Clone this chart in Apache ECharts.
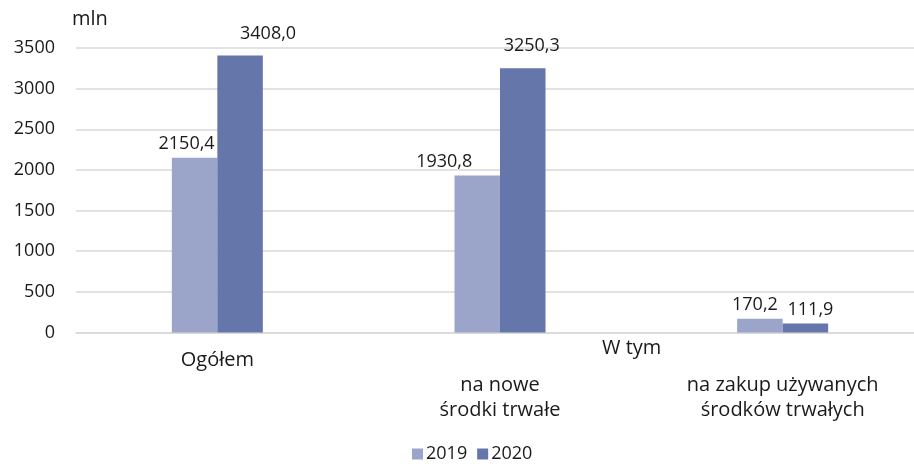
<!DOCTYPE html>
<html>
<head>
<meta charset="utf-8">
<script src="https://cdn.jsdelivr.net/npm/echarts@6/dist/echarts.min.js"></script>
<style>
html,body{margin:0;padding:0;background:#fff;overflow:hidden;width:914px;height:468px;}
#chart{width:924px;height:468px;}
</style>
</head>
<body>
<div id="chart"></div>
<script>
const categories = ['Ogółem', '\nna nowe\nśrodki trwałe', '\nna zakup używanych\nśrodków trwałych'];
const seriesNames = ['2019', '2020'];
const values2019 = [2150.4, 1930.8, 170.2];
const values2020 = [3408.0, 3250.3, 111.9];
const yTicks = [0, 500, 1000, 1500, 2000, 2500, 3000, 3500];
const groupLabel = 'W tym';
const unitLabel = 'mln';

const FONT = '"Open Sans", "Noto Sans", sans-serif';
const TXT = '#1a1a1a';
const labelOffsets2019 = [[-8, 0], [-33, 0], [-5, 0]];
const labelOffsets2020 = [[28, -8], [9, -8], [5, 0]];

function fmt(v) { return v.toFixed(1).replace('.', ','); }
function build(vals, offs) {
  return vals.map((v, i) => ({ value: v, label: { offset: offs[i] } }));
}

const chart = echarts.init(document.getElementById('chart'), null, { renderer: 'canvas' });
chart.setOption({
  animation: false,
  textStyle: { fontFamily: FONT },
  grid: { left: 76, right: 0, top: 48, bottom: 135.5, containLabel: false },
  legend: {
    bottom: 0, left: 407,
    itemWidth: 11, itemHeight: 11, itemGap: 10,
    icon: 'rect',
    textStyle: { fontFamily: FONT, fontSize: 18, color: TXT, padding: [0, 0, 0, -2] },
    data: seriesNames
  },
  xAxis: {
    type: 'category',
    data: categories,
    axisLine: { lineStyle: { color: '#d9d9d9', width: 1.5 } },
    axisTick: { show: false },
    axisLabel: { fontFamily: FONT, fontSize: 20, color: TXT, lineHeight: 25, margin: 15, interval: 0, verticalAlign: 'top' }
  },
  yAxis: {
    type: 'value',
    min: yTicks[0], max: yTicks[yTicks.length - 1], interval: 500,
    name: unitLabel,
    nameLocation: 'end',
    nameGap: 19,
    nameTextStyle: { fontFamily: FONT, fontSize: 20, color: TXT, align: 'left', padding: [0, 0, 0, -4] },
    axisLine: { show: false },
    axisTick: { show: false },
    splitLine: { lineStyle: { color: '#d9d9d9', width: 1.5 } },
    axisLabel: { fontFamily: FONT, fontSize: 18, color: TXT, margin: 21, formatter: v => String(v) }
  },
  series: [
    {
      name: seriesNames[0], type: 'bar', barWidth: 45.5, barGap: '0%',
      itemStyle: { color: '#9aa5c9' },
      label: { show: true, position: 'top', distance: 5, fontFamily: FONT, fontSize: 18, color: TXT, formatter: p => fmt(p.value) },
      data: build(values2019, labelOffsets2019)
    },
    {
      name: seriesNames[1], type: 'bar', barWidth: 45.5, barGap: '0%',
      itemStyle: { color: '#6576ab' },
      label: { show: true, position: 'top', distance: 5, fontFamily: FONT, fontSize: 18, color: TXT, formatter: p => fmt(p.value) },
      data: build(values2020, labelOffsets2020)
    }
  ],
  graphic: [{
    type: 'text', left: 602, top: 338,
    style: { text: groupLabel, font: '20px ' + FONT, fill: TXT }
  }]
});
</script>
</body>
</html>
